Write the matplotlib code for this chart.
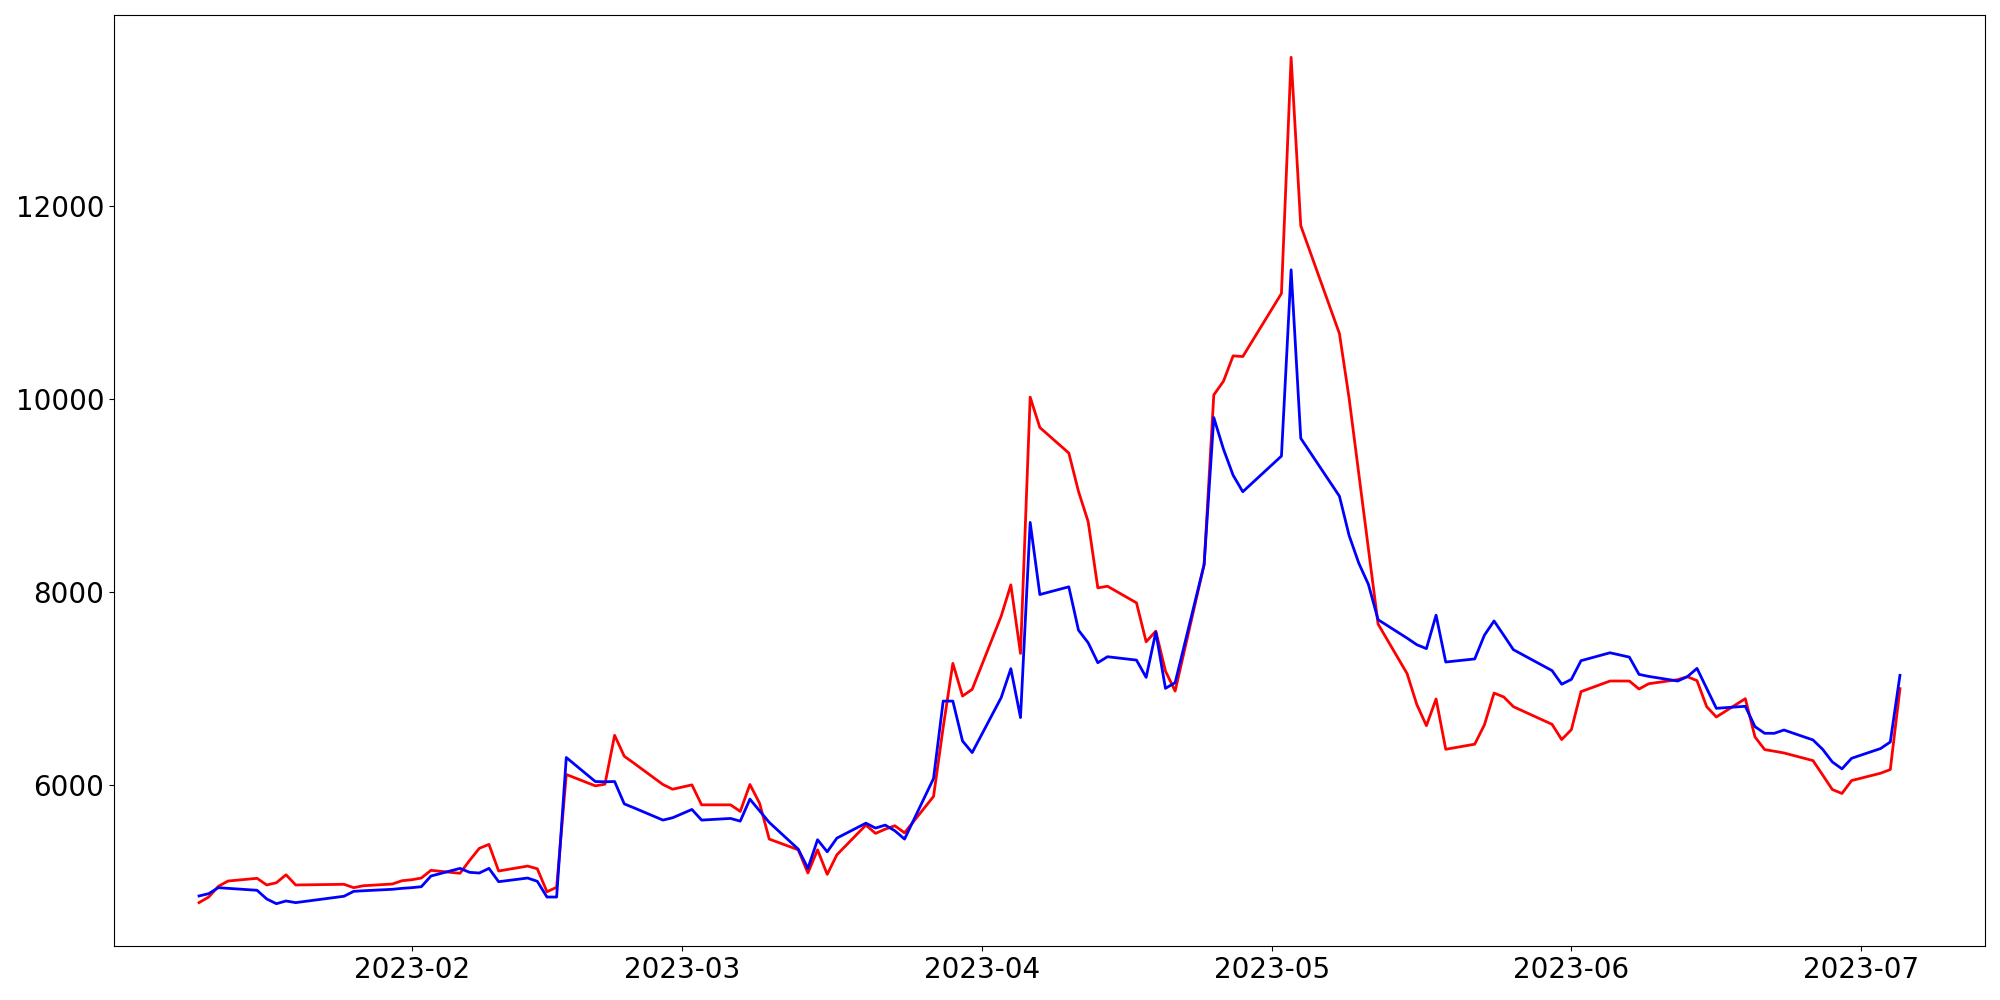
import matplotlib
matplotlib.use("Agg")
import matplotlib.pyplot as plt
import pandas as pd

# trading days, grouped by month
days_by_month = {
    "2023-01": [10, 11, 12, 13, 16, 17, 18, 19, 20, 25, 26, 27, 30, 31],
    "2023-02": [1, 2, 3, 6, 7, 8, 9, 10, 13, 14, 15, 16, 17, 20, 21, 22, 23, 24, 27, 28],
    "2023-03": [2, 3, 6, 7, 8, 9, 10, 13, 14, 15, 16, 17, 20, 21, 22, 23, 24, 27, 28, 29, 30, 31],
    "2023-04": [3, 4, 5, 6, 7, 10, 11, 12, 13, 14, 17, 18, 19, 20, 21, 24, 25, 26, 27, 28],
    "2023-05": [2, 3, 4, 8, 9, 10, 11, 12, 15, 16, 17, 18, 19, 22, 23, 24, 25, 26, 30, 31],
    "2023-06": [1, 2, 5, 7, 8, 9, 12, 13, 14, 15, 16, 19, 20, 21, 22, 23, 26, 27, 28, 29, 30],
    "2023-07": [3, 4, 5],
}

red_values = [
    4777, 4835, 4946, 5001, 5029, 4960, 4983, 5066, 4960, 4967, 4932, 4952, 4970, 5004,
    5014, 5032, 5112, 5081, 5215, 5340, 5381, 5105, 5156, 5128, 4890, 4936, 6106, 5988,
    6005, 6512, 6295, 6223, 6002, 5953,
    5998, 5791, 5791, 5723, 6002, 5808, 5436, 5325, 5084, 5325, 5070, 5273, 5581, 5495,
    5539, 5574, 5501, 5878, 6595, 7258, 6919, 6989,
    7748, 8072, 7361, 10019, 9704, 9439, 9041, 8728, 8041, 8058, 7886, 7482, 7592, 7178,
    6971, 8283, 10042, 10184, 10447, 10440,
    11094, 13543, 11797, 10678, 10008, 9227, 8446, 7666, 7152, 6833, 6612, 6889, 6367,
    6420, 6620, 6950, 6910, 6809, 6626, 6468,
    6571, 6965, 7075, 7075, 6992, 7047, 7089, 7120, 7079, 6809, 6702, 6892, 6495, 6364,
    6347, 6329, 6250, 6101, 5950, 5909, 6043,
    6119, 6157, 6996,
]

blue_values = [
    4846, 4870, 4932, 4925, 4905, 4815, 4766, 4794, 4777, 4843, 4894, 4900, 4915, 4925,
    4932, 4942, 5053, 5132, 5091, 5084, 5132, 4994, 5032, 4998, 4835, 4835, 6282, 6033,
    6030, 6033, 5801, 5760, 5633, 5657,
    5743, 5633, 5650, 5622, 5850, 5729, 5609, 5332, 5132, 5429, 5304, 5446, 5601, 5550,
    5581, 5522, 5436, 6064, 6867, 6867, 6453, 6333,
    6903, 7203, 6696, 8720, 7972, 8052, 7602, 7472, 7265, 7327, 7292, 7113, 7582, 6999,
    7058, 8283, 9807, 9480, 9209, 9038,
    9408, 11339, 9592, 8992, 8585, 8298, 8077, 7711, 7520, 7452, 7411, 7758, 7272,
    7304, 7550, 7698, 7550, 7400, 7183, 7042,
    7092, 7286, 7368, 7323, 7144, 7123, 7075, 7120, 7206, 6999, 6792, 6813, 6602, 6533,
    6533, 6567, 6464, 6367, 6236, 6164, 6274,
    6375, 6443, 7134,
]

date_strings = []
for month, days in days_by_month.items():
    for d in days:
        date_strings.append("%s-%02d" % (month, d))
dates = pd.to_datetime(date_strings)

fig = plt.figure(figsize=(20, 10), dpi=100)
ax = fig.add_subplot(111)
ax.plot(dates, red_values, color="red", linewidth=2)
ax.plot(dates, blue_values, color="blue", linewidth=2)
ax.set_yticks([6000, 8000, 10000, 12000])
ax.tick_params(axis="both", labelsize=20)
fig.subplots_adjust(left=0.057, right=0.9925, bottom=0.054, top=0.985)
fig.savefig("out.png")
